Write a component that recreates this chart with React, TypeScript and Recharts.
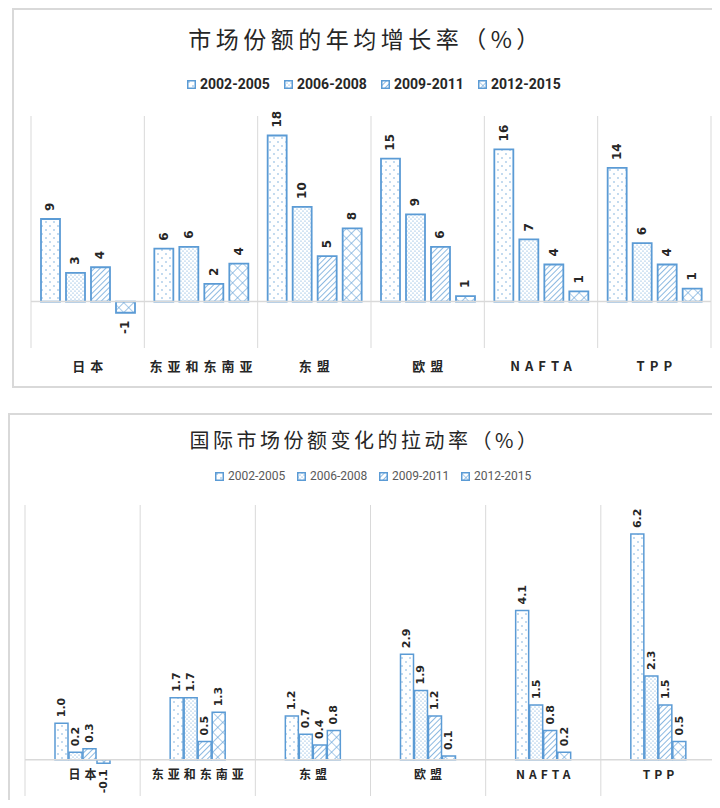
import React from 'react';
import { BarChart, Bar, XAxis, YAxis, CartesianGrid, ReferenceLine, LabelList } from 'recharts';

const categories = ['日本', '东亚和东南亚', '东盟', '欧盟', 'NAFTA', 'TPP'];
const periods = ['2002-2005', '2006-2008', '2009-2011', '2012-2015'];

// 市场份额的年均增长率
const growth2002 = [8.9, 5.7, 17.9, 15.4, 16.4, 14.4];
const growth2006 = [3.1, 5.9, 10.2, 9.4, 6.7, 6.3];
const growth2009 = [3.7, 1.9, 4.9, 5.9, 4.0, 4.0];
const growth2012 = [-1.2, 4.1, 7.9, 0.6, 1.1, 1.4];

// 国际市场份额变化的拉动率
const pull2002 = [1.0, 1.7, 1.2, 2.9, 4.1, 6.2];
const pull2006 = [0.2, 1.7, 0.7, 1.9, 1.5, 2.3];
const pull2009 = [0.3, 0.5, 0.4, 1.2, 0.8, 1.5];
const pull2012 = [-0.1, 1.3, 0.8, 0.1, 0.2, 0.5];

const growthData = categories.map((name, i) => ({
  name,
  p0: growth2002[i],
  p1: growth2006[i],
  p2: growth2009[i],
  p3: growth2012[i]
}));

const pullData = categories.map((name, i) => ({
  name,
  p0: pull2002[i],
  p1: pull2006[i],
  p2: pull2009[i],
  p3: pull2012[i]
}));

const BLUE = '#5B9BD5';
const GRID = '#d9d9d9';
const TEXT = '#262626';
const KEYS = ['p0', 'p1', 'p2', 'p3'];

// fill patterns: sparse dots, dense dots, diagonal lines, crosshatch
const Patterns = ({ prefix }: { prefix: string }) => (
  <defs>
    <pattern id={`${prefix}-p0`} width={8} height={8} patternUnits="userSpaceOnUse">
      <rect width={8} height={8} fill="#fff" />
      <circle cx={2} cy={2} r={0.7} fill={BLUE} />
      <circle cx={6} cy={6} r={0.7} fill={BLUE} />
    </pattern>
    <pattern id={`${prefix}-p1`} width={4} height={4} patternUnits="userSpaceOnUse">
      <rect width={4} height={4} fill="#fff" />
      <circle cx={1} cy={1} r={0.6} fill={BLUE} />
      <circle cx={3} cy={3} r={0.6} fill={BLUE} />
    </pattern>
    <pattern id={`${prefix}-p2`} width={4} height={4} patternUnits="userSpaceOnUse" patternTransform="rotate(45)">
      <rect width={4} height={4} fill="#fff" />
      <line x1={0} y1={0} x2={0} y2={4} stroke={BLUE} strokeWidth={1.4} />
    </pattern>
    <pattern id={`${prefix}-p3`} width={7} height={7} patternUnits="userSpaceOnUse" patternTransform="rotate(45)">
      <rect width={7} height={7} fill="#fff" />
      <path d="M0 0 H7 M0 0 V7" stroke={BLUE} strokeWidth={1.2} />
    </pattern>
  </defs>
);

const makeLabel = (digits: number, size: number, gap: number) => (props: any) => {
  const { x, y, width, height, value } = props;
  const top = Math.min(y, y + height);
  const bottom = Math.max(y, y + height);
  const cx = x + width / 2;
  const neg = value < 0;
  const ly = neg ? bottom + gap : top - gap;
  return (
    <text
      x={cx}
      y={ly}
      transform={`rotate(-90 ${cx} ${ly})`}
      textAnchor={neg ? 'end' : 'start'}
      dominantBaseline="central"
      fontSize={size}
      fontWeight="bold"
      fontFamily="'DejaVu Sans', sans-serif"
      fill={TEXT}
    >
      {Number(value).toFixed(digits)}
    </text>
  );
};

const makeTick = (dy: number, size: number, spacing: number) => (props: any) => {
  const { x, y, payload } = props;
  return (
    <text
      x={x + spacing / 2}
      y={y + dy}
      textAnchor="middle"
      dominantBaseline="central"
      fontSize={size}
      fontWeight="bold"
      letterSpacing={spacing}
      fontFamily="'Noto Sans CJK SC', sans-serif"
      fill={TEXT}
    >
      {payload.value}
    </text>
  );
};

const boundaries = ({ offset }: any) =>
  Array.from({ length: categories.length + 1 }, (_, i) => offset.left + (offset.width * i) / categories.length);

const LegendRow = ({ prefix, size, weight, color, pitch, left, top }: any) => (
  <div style={{ position: 'absolute', left, top, display: 'flex', alignItems: 'center' }}>
    {periods.map((p, i) => (
      <div key={p} style={{ display: 'flex', alignItems: 'center', width: pitch }}>
        <svg width={9} height={9} style={{ marginRight: 4 }}>
          <Patterns prefix={`${prefix}-lg${i}`} />
          <rect x={0.75} y={0.75} width={7.5} height={7.5} fill={`url(#${prefix}-lg${i}-p${i})`} stroke={BLUE} strokeWidth={1.5} />
        </svg>
        <span style={{ fontSize: size, fontWeight: weight, color, fontFamily: "'Liberation Sans Narrow', Roboto, sans-serif" }}>{p}</span>
      </div>
    ))}
  </div>
);

export default function App() {
  return (
    <div style={{ position: 'relative', width: 720, height: 808, margin: -8, overflow: 'hidden', background: '#fff' }}>
      {/* panel 1 */}
      <div style={{ position: 'absolute', left: 12, top: 8, width: 720, height: 376, border: `2px solid ${GRID}` }} />
      <div
        style={{
          position: 'absolute', left: 0, width: 732, top: 20, textAlign: 'center',
          fontSize: 23, letterSpacing: 4.5, color: TEXT, fontFamily: "'Noto Sans CJK SC', sans-serif", lineHeight: '36px'
        }}
      >
        市场份额的年均增长率（%）
      </div>
      <LegendRow prefix="a" size={14} weight="bold" color={TEXT} pitch={97} left={187} top={76} />
      <div style={{ position: 'absolute', left: 0, top: 0 }}>
        <BarChart
          width={720}
          height={390}
          data={growthData}
          margin={{ top: 116, right: 9, left: 31, bottom: 12 }}
          barSize={19}
          barGap={6}
        >
          <Patterns prefix="c1" />
          <CartesianGrid horizontal={false} stroke={GRID} verticalCoordinatesGenerator={boundaries} />
          <XAxis dataKey="name" height={30} axisLine={false} tickLine={false} tickSize={0} tickMargin={0} tick={makeTick(17, 13, 5)} interval={0} />
          <YAxis hide domain={[-5, 20]} />
          <ReferenceLine y={0} stroke={GRID} strokeWidth={1.5} />
          {KEYS.map((k) => (
            <Bar key={k} dataKey={k} fill={`url(#c1-${k})`} stroke={BLUE} strokeWidth={1.8} isAnimationActive={false}>
              <LabelList dataKey={k} content={makeLabel(0, 12, 8)} />
            </Bar>
          ))}
        </BarChart>
      </div>

      {/* panel 2 */}
      <div style={{ position: 'absolute', left: 8, top: 413, width: 720, height: 420, border: `2px solid ${GRID}` }} />
      <div
        style={{
          position: 'absolute', left: 0, width: 730, top: 425, textAlign: 'center',
          fontSize: 20, letterSpacing: 3.5, color: TEXT, fontFamily: "'Noto Sans CJK SC', sans-serif", lineHeight: '30px'
        }}
      >
        国际市场份额变化的拉动率（%）
      </div>
      <LegendRow prefix="b" size={12} weight="normal" color="#595959" pitch={82} left={215} top={469} />
      <div style={{ position: 'absolute', left: 0, top: 400 }}>
        <BarChart
          width={720}
          height={408}
          data={pullData}
          margin={{ top: 105, right: 4, left: 25, bottom: 0 }}
          barSize={13}
          barGap={1}
        >
          <Patterns prefix="c2" />
          <CartesianGrid horizontal={false} stroke={GRID} verticalCoordinatesGenerator={boundaries} />
          <XAxis dataKey="name" height={12} axisLine={false} tickLine={false} tickSize={0} tickMargin={0} tick={makeTick(-23, 12, 4)} interval={0} />
          <YAxis hide domain={[-1, 7]} />
          <ReferenceLine y={0} stroke={GRID} strokeWidth={1.5} />
          {KEYS.map((k) => (
            <Bar key={k} dataKey={k} fill={`url(#c2-${k})`} stroke={BLUE} strokeWidth={1.5} isAnimationActive={false}>
              <LabelList dataKey={k} content={makeLabel(1, 11, 6)} />
            </Bar>
          ))}
        </BarChart>
      </div>
    </div>
  );
}
